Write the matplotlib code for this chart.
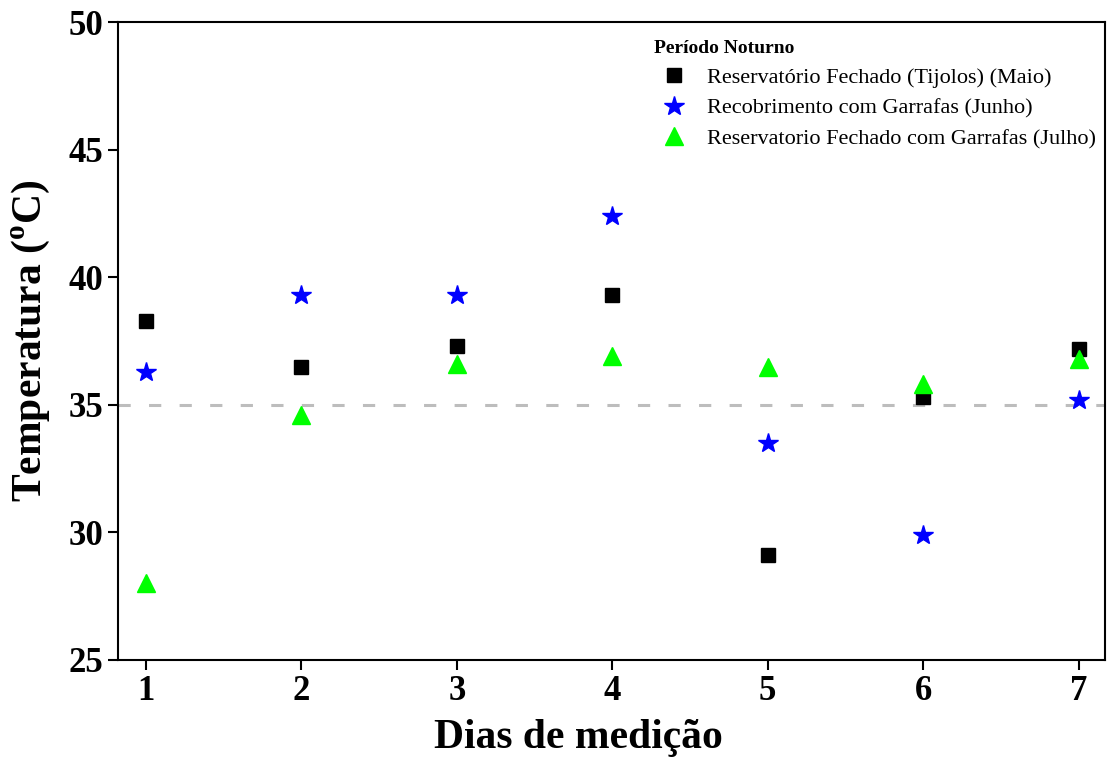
import numpy as np
import matplotlib.pyplot as plt

plt.rcParams['font.family'] = ['Liberation Serif', 'DejaVu Serif']
plt.rcParams['mathtext.fontset'] = 'custom'
plt.rcParams['mathtext.rm'] = 'Liberation Serif'
plt.rcParams['mathtext.bf'] = 'Liberation Serif:bold'

dias = [1, 2, 3, 4, 5, 6, 7]
tijolos_maio = [38.3, 36.5, 37.3, 39.3, 29.1, 35.3, 37.2]
garrafas_junho = [36.3, 39.3, 39.3, 42.4, 33.5, 29.9, 35.2]
fechado_julho = [28.0, 34.6, 36.6, 36.9, 36.5, 35.8, 36.8]

nomes = ['Reservatório Fechado (Tijolos) (Maio)',
         'Recobrimento com Garrafas (Junho)',
         'Reservatorio Fechado com Garrafas (Julho)']

fig = plt.figure(figsize=(11.1, 7.65), dpi=100)
ax = fig.add_axes([0.1063, 0.1373, 0.8892, 0.8339])

ax.axhline(35, color='#bdbdbd', lw=2.2, dashes=(4, 6), zorder=1)

ax.plot(dias, tijolos_maio, ls='none', marker='s', ms=10, color='black', label=nomes[0], zorder=3)
ax.plot(dias, garrafas_junho, ls='none', marker='*', ms=15, color='#0000ff', label=nomes[1], zorder=3)
ax.plot(dias, fechado_julho, ls='none', marker='^', ms=13, color='#00ff00', label=nomes[2], zorder=3)

ax.set_xlim(0.82, 7.17)
ax.set_ylim(25, 50)
ax.set_xticks(dias)
ax.set_yticks([25, 30, 35, 40, 45, 50])

for s in ax.spines.values():
    s.set_linewidth(1.5)
ax.tick_params(direction='out', length=7, width=1.5, labelsize=25)
for lab in ax.get_xticklabels() + ax.get_yticklabels():
    lab.set_fontweight('bold')

ax.set_xlabel('Dias de medição', fontsize=30, fontweight='bold')
ax.xaxis.set_label_coords(0.466, -0.092)
ax.set_ylabel(r'Temperatura ($^{\mathbf{o}}$C)', fontsize=30, fontweight='bold', labelpad=12)

leg = ax.legend(loc='upper right', bbox_to_anchor=(1.0, 0.985), frameon=False,
                title='Período Noturno', fontsize=16, handletextpad=0.6,
                labelspacing=0.45, borderaxespad=0.0, handlelength=1.8)
leg.get_title().set_fontweight('bold')
leg.get_title().set_fontsize(14)
leg._legend_box.align = 'left'

fig.savefig('out.png', dpi=100)
